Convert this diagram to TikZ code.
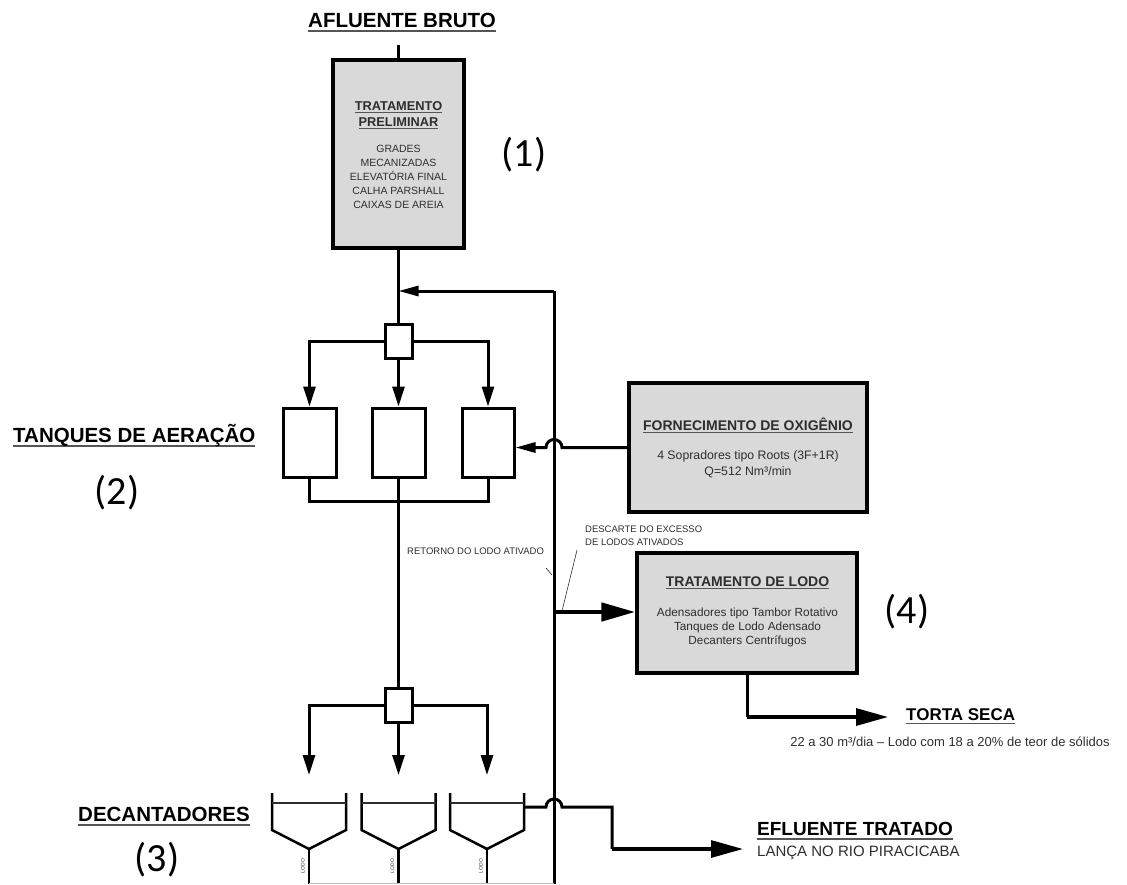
\documentclass[tikz,border=0pt]{standalone}
\usepackage{fontspec}
\setmainfont{Liberation Sans}
\newfontfamily\numfont{Carlito}
\usetikzlibrary{arrows.meta,calc}
\definecolor{boxgray}{HTML}{D9D9D9}
\definecolor{ulgray}{HTML}{555555}
\definecolor{txt}{HTML}{2E2E2E}
\newcommand{\myul}[1]{\setbox0=\hbox{#1}\leavevmode\rlap{\textcolor{ulgray}{\rule[-0.24em]{\wd0}{0.09em}}}\box0}
\tikzset{
  ln/.style={line width=3pt},
  arr/.style={ln, -{Triangle[length=20pt,width=12pt]}},
  arrs/.style={ln, -{Triangle[length=20pt,width=10pt]}},
  bigarr/.style={line width=3.2pt, -{Triangle[length=32pt,width=17pt]}},
  fatarr/.style={line width=4.8pt, -{Triangle[length=34pt,width=18pt]}},
  procbox/.style={draw, line width=3.3pt, fill=boxgray, inner sep=0},
  tank/.style={draw, line width=3pt, fill=white, inner sep=0},
  head/.style={font=\fontsize{20.5}{24}\selectfont\bfseries, text=black, inner sep=0},
  numlab/.style={font=\numfont\fontsize{40}{48}\selectfont, inner sep=0},
  btitle/.style={font=\fontsize{12.8}{14}\selectfont\bfseries, text=txt, inner sep=0},
  btxt/.style={font=\fontsize{10.5}{14}\selectfont, text=txt, inner sep=0},
  otitle/.style={font=\fontsize{14}{16}\selectfont\bfseries, text=txt, inner sep=0},
  otxt/.style={font=\fontsize{12.3}{14}\selectfont, text=txt, inner sep=0},
  small/.style={font=\fontsize{9.5}{11}\selectfont, text=txt, inner sep=0},
  lodo/.style={font=\fontsize{5}{6}\selectfont, text=txt, inner sep=0, rotate=90},
  thinln/.style={line width=0.6pt, draw=txt},
}
\begin{document}
\begin{tikzpicture}[x=1pt,y=-1pt]
\path[use as bounding box] (0,0) rectangle (1127,884);

% ---- headings
\node[head, anchor=base] (afl) at (402,27) {\myul{AFLUENTE BRUTO}};
\node[head, anchor=base west] (tanq) at (13,442) {\myul{TANQUES DE AERAÇÃO}};
\node[head, anchor=base west] (decl) at (78,821) {\myul{DECANTADORES}};
\node[head, font=\fontsize{19}{22}\selectfont\bfseries, anchor=base west] (eft) at (757,835) {\myul{EFLUENTE TRATADO}};
\node[font=\fontsize{15}{18}\selectfont, text=txt, inner sep=0, anchor=base west] (lanca) at (757,856) {LANÇA NO RIO PIRACICABA};
\node[head, font=\fontsize{17}{20}\selectfont\bfseries, anchor=base west] (torta) at (906,720) {\myul{TORTA SECA}};
\node[font=\fontsize{13}{15}\selectfont, text=txt, inner sep=0, anchor=base] (tortasub) at (950,746) {22 a 30 m³/dia – Lodo com 18 a 20\% de teor de sólidos};

% ---- numbers
\node[numlab] (n1) at (524,155) {(1)};
\node[numlab] (n2) at (117,493) {(2)};
\node[numlab] (n3) at (157,860) {(3)};
\node[numlab] (n4) at (907,612) {(4)};

% ---- preliminary treatment
\coordinate (inA) at (398.5,45);
\node[procbox, minimum width=131, minimum height=188] (pre) at (398.5,154) {};
\node[btitle, anchor=base] (pt1) at (398.5,110) {\myul{TRATAMENTO}};
\node[btitle, anchor=base] (pt2) at (398.5,126) {\myul{PRELIMINAR}};
\foreach \t/\yy in {GRADES/152, MECANIZADAS/166, ELEVATÓRIA FINAL/180, CALHA PARSHALL/194, CAIXAS DE AREIA/208}
  \node[btxt, anchor=base] (pl\yy) at (398.5,\yy) {\t};
\draw[ln] (inA) -- (pre.north);

% ---- splitter 1 and aeration tanks
\node[tank, minimum width=27, minimum height=34] (spl1) at (398.5,341) {};
\node[tank, minimum width=53, minimum height=69] (t1) at (309.5,442.5) {};
\node[tank, minimum width=53, minimum height=69] (t2) at (398.5,442.5) {};
\node[tank, minimum width=52, minimum height=69] (t3) at (488,442.5) {};
\draw[ln] (pre.south) -- (spl1.north);
\draw[arr] (spl1.west) -| (t1.north);
\draw[arr] (spl1.south) -- (t2.north);
\draw[arr] (spl1.east) -| (t3.north);
\draw[ln] (t1.south) -- ++(0,23) -| (t3.south);

% ---- return line
\coordinate (rTop) at (554,291);
\coordinate (rBot) at (554,884);
\coordinate (mainR) at (398.5,291);
\draw[ln] (rBot) -- (rTop);
\draw[arrs] (rTop) -- (mainR);

% ---- oxygen supply
\node[procbox, minimum width=238, minimum height=129] (ox) at (748,447.5) {};
\node[otitle, anchor=base] (oxt) at (748,430) {\myul{FORNECIMENTO DE OXIGÊNIO}};
\node[otxt, anchor=base] (ox1) at (748,459) {4 Sopradores tipo Roots (3F+1R)};
\node[otxt, anchor=base] (ox2) at (748,475) {Q=512 Nm³/min};
\draw[arrs] (ox.west) -- (562,447.5) arc[start angle=0, end angle=180, radius=8pt] -- (t3.east |- ox.west);

% ---- splitter 2 and decanters
\node[tank, minimum width=27, minimum height=34] (spl2) at (398.5,705) {};
\draw[ln] (t2.south) -- (spl2.north);
\coordinate (d1) at (309,775);
\coordinate (d2) at (398.5,775);
\coordinate (d3) at (487,775);
\draw[arr] (spl2.west) -| (d1);
\draw[arr] (spl2.south) -- (d2);
\draw[arr] (spl2.east) -| (d3);
\foreach \cx/\nm in {309/a, 398.5/b, 487/c} {
  \draw[line width=2.5pt, line join=miter] (\cx-37,793) -- (\cx-37,830) -- (\cx,849) -- (\cx+37,830) -- (\cx+37,793);
  \draw[line width=1.2pt, draw=txt] (\cx-37,803) -- (\cx+37,803);
  \draw[line width=2.8pt] (\cx,849) -- (\cx,884);
  \node[lodo] (lodo\nm) at (\cx-6,866) {LODO};
}
\draw[line width=0.8pt, draw=black!25] (309,883.5) -- (554,883.5);

% ---- treated effluent
\coordinate (eA) at (524,807);
\coordinate (eB) at (612,807);
\coordinate (eC) at (612,849);
\coordinate (eD) at (743,849);
\draw[ln] (eA) -- (546,807) arc[start angle=180, end angle=0, radius=8pt] -- (eB) -- (eC);
\draw[bigarr] (eC) -- (eD);

% ---- sludge treatment
\node[procbox, minimum width=220, minimum height=120] (sl) at (747,613) {};
\node[otitle, anchor=base] (slt) at (747.5,586) {\myul{TRATAMENTO DE LODO}};
\node[otxt, font=\fontsize{11.8}{14}\selectfont, anchor=base] (sl1) at (747.5,616) {Adensadores tipo Tambor Rotativo};
\node[otxt, font=\fontsize{11.8}{14}\selectfont, anchor=base] (sl2) at (747.5,630) {Tanques de Lodo Adensado};
\node[otxt, font=\fontsize{11.8}{14}\selectfont, anchor=base] (sl3) at (747.5,644) {Decanters Centrífugos};
\coordinate (sA) at (554,612);
\draw[fatarr] (sA) -- (sl.west |- sA);
\coordinate (tA) at (747,717);
\coordinate (tB) at (888,717);
\draw[ln] (sl.south) -- (tA);
\draw[bigarr] (tA) -- (tB);

% ---- small labels with leaders
\node[small, anchor=base west] (ret) at (407,554) {RETORNO DO LODO ATIVADO};
\coordinate (retL1) at (546,568);
\coordinate (retL2) at (552,575);
\draw[thinln] (retL1) -- (retL2);
\node[small, anchor=base west] (desc1) at (585,532) {DESCARTE DO EXCESSO};
\node[small, anchor=base west] (desc2) at (585,545) {DE LODOS ATIVADOS};
\coordinate (dL1) at (577,550);
\coordinate (dL2) at (562,611);
\draw[thinln] (dL1) -- (dL2);
\end{tikzpicture}
\end{document}
